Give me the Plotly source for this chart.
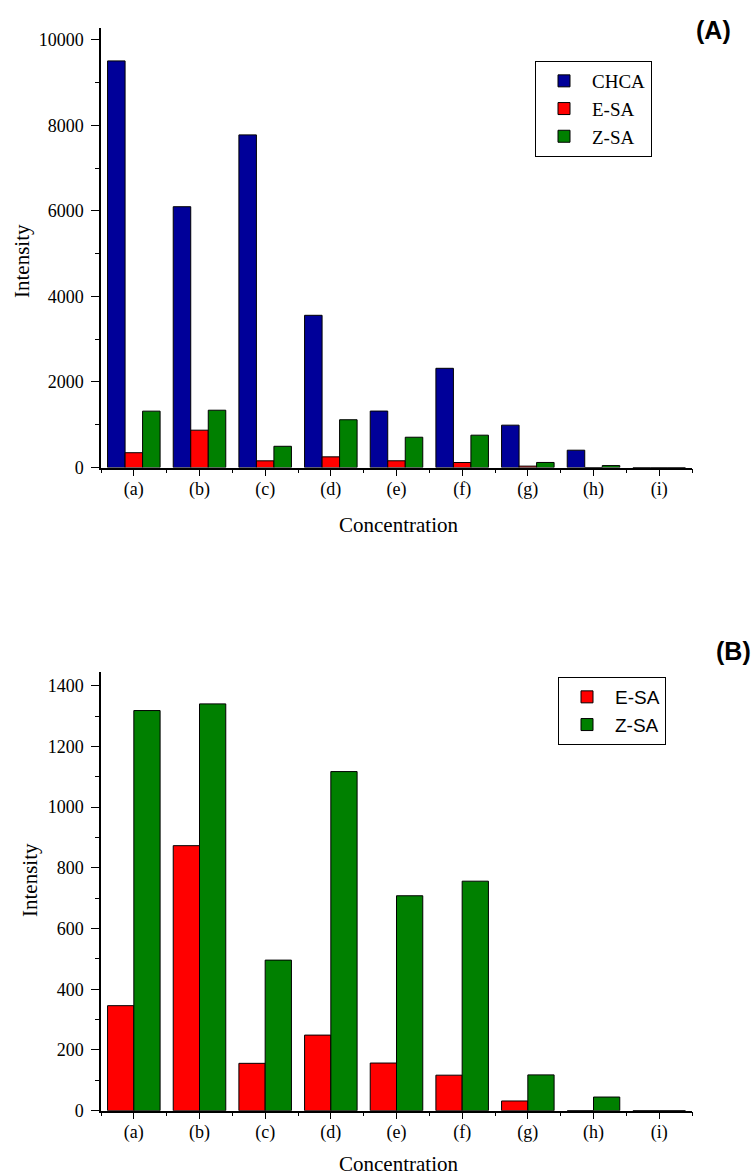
import plotly.graph_objects as go

categories = ["(a)", "(b)", "(c)", "(d)", "(e)", "(f)", "(g)", "(h)", "(i)"]
chca = [9510, 6100, 7780, 3560, 1320, 2320, 990, 405, 0]
e_sa = [346, 873, 156, 249, 157, 117, 32, 0, 0]
z_sa = [1318, 1340, 496, 1117, 708, 756, 118, 45, 0]

colors = {"CHCA": "#000099", "E-SA": "#FF0000", "Z-SA": "#008000"}
xpos = list(range(len(categories)))

fig = go.Figure()

for name, vals in [("CHCA", chca), ("E-SA", e_sa), ("Z-SA", z_sa)]:
    fig.add_trace(go.Bar(
        x=xpos, y=vals, name=name, xaxis="x", yaxis="y",
        marker=dict(color=colors[name], line=dict(color="black", width=1)),
        offsetgroup=name, legend="legend", hoverinfo="skip"))

for name, vals in [("E-SA", e_sa), ("Z-SA", z_sa)]:
    fig.add_trace(go.Bar(
        x=xpos, y=vals, name=name, xaxis="x2", yaxis="y2",
        marker=dict(color=colors[name], line=dict(color="black", width=1)),
        offsetgroup=name + "2", legend="legend2", hoverinfo="skip"))

serif = "Liberation Serif"
sans = "Liberation Sans"

W = 756.0
H = 1175.0
xdom = [101 / W, 692 / W]

def xaxis_cfg(anchor):
    return dict(
        domain=xdom, anchor=anchor, range=[-0.5, 8.5], automargin=False,
        tickmode="array", tickvals=xpos, ticktext=categories,
        showline=True, linecolor="black", linewidth=1.5,
        ticks="outside", ticklen=7, tickwidth=1.2, tickcolor="black",
        ticklabelstandoff=-3,
        minor=dict(ticks="outside", tick0=-0.5, dtick=1, ticklen=4,
                   tickwidth=1.2, tickcolor="black", showgrid=False),
        showgrid=False, zeroline=False,
        tickfont=dict(family=serif, size=18, color="black"),
    )

def yaxis_cfg(anchor, dom, rng, dtick, mdtick):
    return dict(
        domain=dom, anchor=anchor, range=rng, dtick=dtick, tick0=0,
        tickformat="d", automargin=False,
        showline=True, linecolor="black", linewidth=1.5,
        ticks="outside", ticklen=8, tickwidth=1.2, tickcolor="black",
        ticklabelstandoff=4,
        minor=dict(ticks="outside", dtick=mdtick, ticklen=4,
                   tickwidth=1.2, tickcolor="black", showgrid=False),
        showgrid=False, zeroline=False,
        tickfont=dict(family=serif, size=18, color="black"),
    )

def ann(text, px, py, size, family, angle=0, xanchor="center"):
    return dict(text=text, x=px / W, y=1 - py / H, xref="paper", yref="paper",
                xanchor=xanchor, yanchor="middle", showarrow=False, textangle=angle,
                font=dict(family=family, size=size, color="black"))

fig.update_layout(
    width=756, height=1175,
    margin=dict(l=0, r=0, t=0, b=0, autoexpand=False),
    paper_bgcolor="white", plot_bgcolor="white",
    barmode="group", bargap=0.2, bargroupgap=0,
    xaxis=xaxis_cfg("y"),
    yaxis=yaxis_cfg("x", [(H - 467.5) / H, (H - 28) / H], [0, 10280], 2000, 1000),
    xaxis2=xaxis_cfg("y2"),
    yaxis2=yaxis_cfg("x2", [(H - 1110.7) / H, (H - 671.7) / H], [0, 1446], 200, 100),
    legend=dict(x=535 / W, y=1 - 61 / H, xanchor="left", yanchor="top",
                bordercolor="black", borderwidth=1, bgcolor="white",
                font=dict(family=serif, size=19, color="black"),
                tracegroupgap=0, itemwidth=46),
    legend2=dict(x=558 / W, y=1 - 677 / H, xanchor="left", yanchor="top",
                 bordercolor="black", borderwidth=1, bgcolor="white",
                 font=dict(family=sans, size=19, color="black"),
                 tracegroupgap=0, itemwidth=46),
    annotations=[
        ann("<b>(A)</b>", 733, 30, 25, sans, xanchor="right"),
        ann("<b>(B)</b>", 753, 651, 25, sans, xanchor="right"),
        ann("Intensity", 22, 261, 21, serif, angle=-90),
        ann("Intensity", 30, 880, 21, serif, angle=-90),
        ann("Concentration", 398, 525, 21, serif),
        ann("Concentration", 398, 1164, 21, serif),
    ],
)

fig.write_html("out.html", config={"displayModeBar": False},
               post_script="document.body.style.margin='0';")
